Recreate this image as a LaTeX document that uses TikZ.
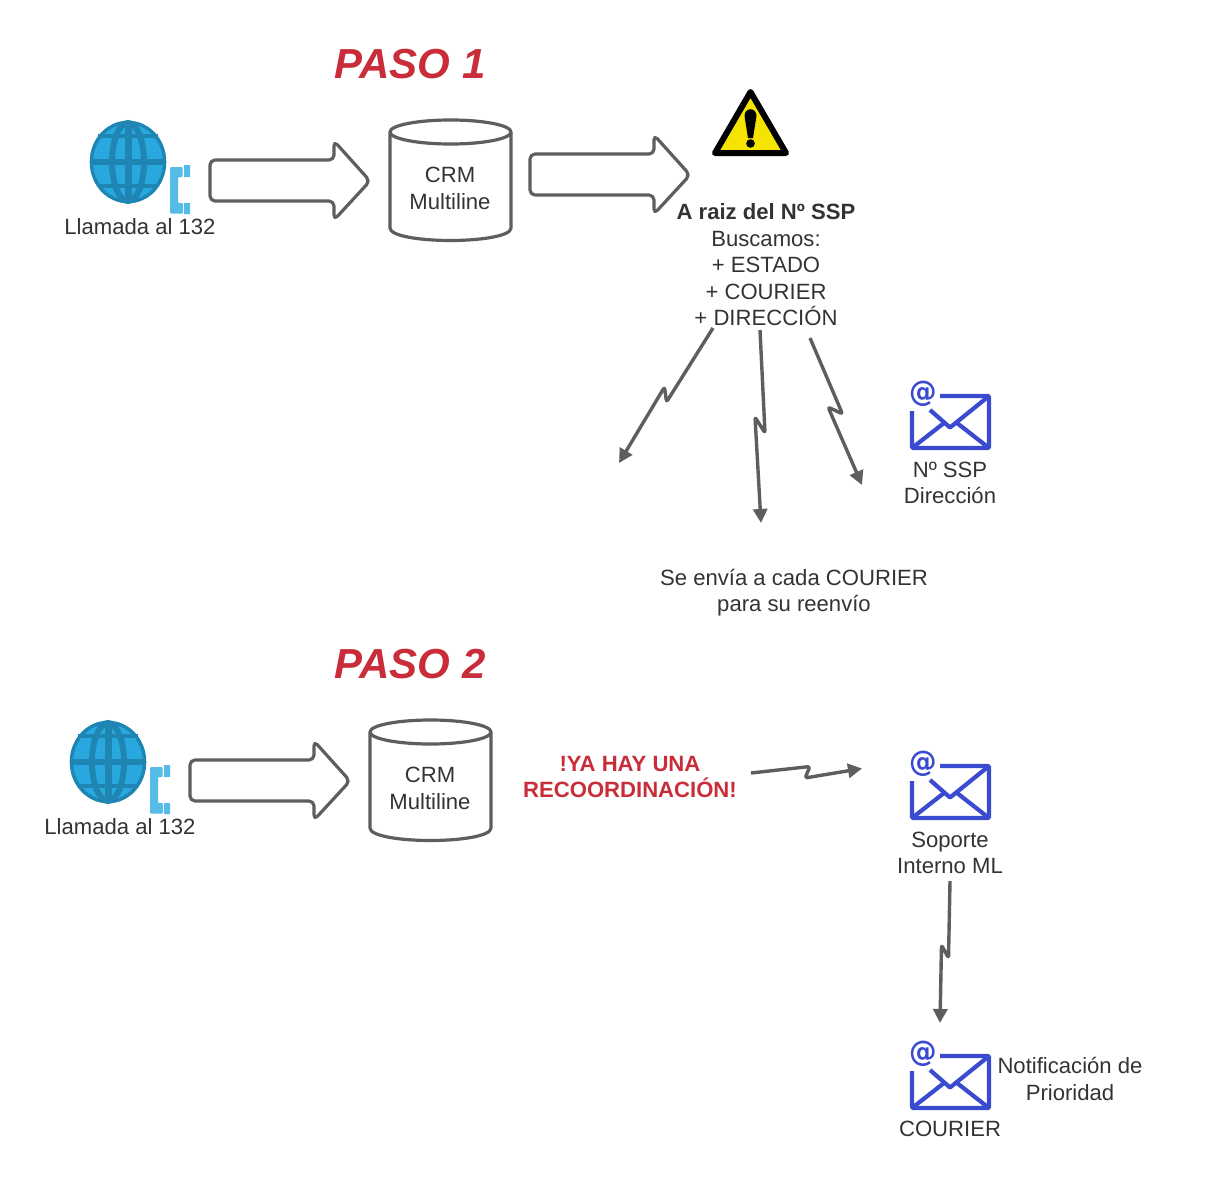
\documentclass[tikz,border=0pt]{standalone}
\usepackage{fontspec}
\setmainfont{Liberation Sans}
\newfontfamily\atfont{DejaVu Sans}
\usetikzlibrary{arrows.meta}
\definecolor{ink}{HTML}{333333}
\definecolor{linegray}{HTML}{5E5E5E}
\definecolor{redtxt}{HTML}{C92D39}
\definecolor{mailblue}{HTML}{3A4BD0}
\definecolor{globefill}{HTML}{29A8E0}
\definecolor{globeline}{HTML}{1F86B4}
\definecolor{phoneblue}{HTML}{55BCE8}
\definecolor{warnyellow}{HTML}{F5E400}
\tikzset{
  x=1pt,y=-1pt,
  txt/.style={text=ink,align=center,inner sep=0pt,font=\fontsize{22.1}{26.5}\selectfont},
  title/.style={text=redtxt,inner sep=0pt,font=\fontsize{42}{46}\selectfont\bfseries\itshape},
  alert/.style={text=redtxt,align=center,inner sep=0pt,font=\fontsize{22.1}{26.5}\selectfont\bfseries},
  shapeline/.style={draw=linegray,line width=3.2pt,rounded corners=5pt,line join=round},
  zig/.style={draw=linegray,line width=3.4pt,line join=round,-{Triangle[length=14pt,width=14pt]},rounded corners=2.5pt},
  envline/.style={draw=mailblue,line width=4.2pt,line join=round},
  pics/globe/.style={code={
    \fill[globefill] (0,0) ellipse [x radius=38,y radius=41];
    \draw[globeline,line width=3.4pt] (0,0) ellipse [x radius=36.6,y radius=39.6];
    \draw[globeline,line width=6pt] (0,0) ellipse [x radius=16,y radius=39];
    \draw[globeline,line width=6.5pt] (0.5,-40) -- (0.5,40);
    \draw[globeline,line width=5.5pt] (-37,0) -- (37,0);
    \draw[globeline,line width=4.5pt] (-30,-26) -- (30,-26) (-30,24) -- (30,24);
  }},
  pics/phone/.style={code={
    \fill[phoneblue,rounded corners=1pt] (0,0) -- (12.5,0) -- (12.5,10) -- (8,10) -- (8,36) -- (13,36) -- (13,46.5) -- (0,46.5) -- cycle;
    \fill[phoneblue] (14,-2) rectangle (20,10) (14,36) rectangle (20,47);
  }},
  pics/crm/.style={code={
    \draw[shapeline,fill=white,rounded corners=0pt] (0,12) -- (0,108) .. controls (0,116) and (30,120.5) .. (60.5,120.5) .. controls (91,120.5) and (121,116) .. (121,108) -- (121,12);
    \draw[shapeline,rounded corners=0pt] (60.5,12) ellipse [x radius=60.5,y radius=12];
  }},
  pics/bigarrow/.style={code={
    \draw[shapeline] (0,0) -- (124,0) -- (124,-19) -- (160,21) -- (124,60) -- (124,41) -- (0,41) -- cycle;
  }},
  pics/mail/.style={code={
    \draw[envline,rounded corners=1pt] (2,16) -- (2,53) -- (79,53) -- (79,1) -- (30,1);
    \draw[envline] (20,15) -- (40,32.5) -- (79,1);
    \draw[envline] (2,53) -- (34,28) (79,53) -- (47,28);
    \node[text=mailblue,inner sep=0pt,xscale=0.95,font=\fontsize{29}{29}\selectfont\atfont\bfseries] at (13,-1) {@};
  }},
}
\begin{document}
\begin{tikzpicture}
\useasboundingbox (0,0) rectangle (1230,1180);
\fill[white] (0,0) rectangle (1230,1180);

% PASO 1
\node[title] (p1) at (410,64) {PASO 1};
\pic at (128,162) {globe};
\pic at (170,167) {phone};
\node[txt] (ll1) at (140,227) {Llamada al 132};
\pic at (210,160) {bigarrow};
\pic at (390,120) {crm};
\node[txt] (crm1) at (450,188.2) {CRM\\Multiline};
\pic at (530,154) {bigarrow};

% warning sign
\draw[black,line width=6pt,line join=round,fill=warnyellow] (750.5,92) -- (715,153) -- (786,153) -- cycle;
\fill[black] (744.5,116) .. controls (744.5,107) and (756.5,107) .. (756.5,116) -- (753,138) -- (748,138) -- cycle;
\fill[black] (750.5,143.5) circle (4.3);

\node[txt] (info) at (766,265) {\textbf{A raiz del Nº SSP}\\Buscamos:\\+ ESTADO\\+ COURIER\\+ DIRECCIÓN};

\coordinate (a1s) at (713,328);
\coordinate (a1e) at (619,463);
\coordinate (a2s) at (760,330);
\coordinate (a2e) at (761,523);
\coordinate (a3s) at (810,338);
\coordinate (a3e) at (862,485);
\draw[zig] (a1s) -- (666.5,402) -- (664.5,387) -- (a1e);
\draw[zig] (a2s) -- (765,433) -- (755,417) -- (a2e);
\draw[zig] (a3s) -- (842.5,414) -- (828,407) -- (a3e);

\pic at (910,395) {mail};
\node[txt] (m1) at (950,482.7) {Nº SSP\\Dirección};
\node[txt] (env) at (794,592.7) {Se envía a cada COURIER\\para su reenvío};

% PASO 2
\node[title] (p2) at (410,664) {PASO 2};
\pic at (108,762) {globe};
\pic at (150,767) {phone};
\node[txt] (ll2) at (120,827) {Llamada al 132};
\pic at (190,760) {bigarrow};
\pic at (370,720) {crm};
\node[txt] (crm2) at (430,788.2) {CRM\\Multiline};
\node[alert] (ya) at (630,777.2) {!YA HAY UNA\\RECOORDINACIÓN!};

\coordinate (a4s) at (751,773);
\coordinate (a4e) at (862,768.5);
\draw[zig] (a4s) -- (810,766.5) -- (805,778) -- (a4e);

\pic at (910,765) {mail};
\node[txt] (m2) at (950,853) {Soporte\\Interno ML};

\coordinate (a5s) at (950,881);
\coordinate (a5e) at (940,1023);
\draw[zig] (a5s) -- (948.5,958) -- (941.5,945) -- (a5e);

\pic at (910,1055) {mail};
\node[txt] (m3) at (950,1129) {COURIER};
\node[txt] (nt) at (1070,1079) {Notificación de\\Prioridad};
\end{tikzpicture}
\end{document}
